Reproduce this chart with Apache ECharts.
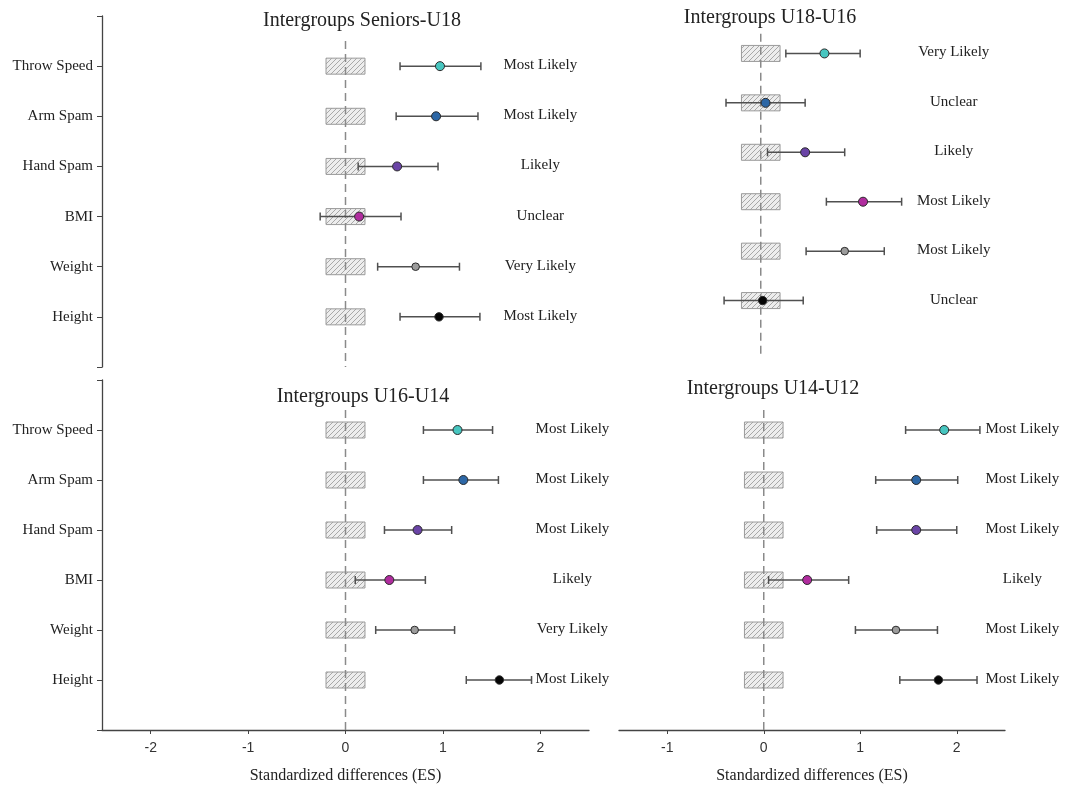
<!DOCTYPE html>
<html><head><meta charset="utf-8">
<script src="https://cdn.jsdelivr.net/npm/echarts@6/dist/echarts.min.js"></script>
<style>html,body{margin:0;padding:0;background:#fff}#c{width:1069px;height:790px}</style>
</head><body><div id="c"></div>
<script>
// ---------- data ----------
const categories = ['Throw Speed', 'Arm Spam', 'Hand Spam', 'BMI', 'Weight', 'Height'];
const xTicksWide = [-2, -1, 0, 1, 2];
const xTicksNarrow = [-1, 0, 1, 2];
const axisName = 'Standardized differences (ES)';
const panelTitles = ['Intergroups Seniors-U18', 'Intergroups U18-U16', 'Intergroups U16-U14', 'Intergroups U14-U12'];
const trivialLow = -0.2;   // smallest worthwhile change band
const trivialHigh = 0.2;

const seniorsU18Es  = [0.97, 0.93, 0.53, 0.14, 0.72, 0.96];
const seniorsU18Lo  = [0.56, 0.52, 0.13, -0.26, 0.33, 0.56];
const seniorsU18Hi  = [1.39, 1.36, 0.95, 0.57, 1.17, 1.38];
const seniorsU18Inf = ['Most Likely', 'Most Likely', 'Likely', 'Unclear', 'Very Likely', 'Most Likely'];

const u18U16Es  = [0.66, 0.05, 0.46, 1.06, 0.87, 0.02];
const u18U16Lo  = [0.26, -0.36, 0.07, 0.68, 0.47, -0.38];
const u18U16Hi  = [1.03, 0.46, 0.87, 1.46, 1.28, 0.44];
const u18U16Inf = ['Very Likely', 'Unclear', 'Likely', 'Most Likely', 'Most Likely', 'Unclear'];

const u16U14Es  = [1.15, 1.21, 0.74, 0.45, 0.71, 1.58];
const u16U14Lo  = [0.80, 0.80, 0.40, 0.10, 0.31, 1.24];
const u16U14Hi  = [1.51, 1.57, 1.09, 0.82, 1.12, 1.91];
const u16U14Inf = ['Most Likely', 'Most Likely', 'Most Likely', 'Likely', 'Very Likely', 'Most Likely'];

const u14U12Es  = [1.87, 1.58, 1.58, 0.45, 1.37, 1.81];
const u14U12Lo  = [1.47, 1.16, 1.17, 0.05, 0.95, 1.41];
const u14U12Hi  = [2.24, 2.01, 2.00, 0.88, 1.80, 2.21];
const u14U12Inf = ['Most Likely', 'Most Likely', 'Most Likely', 'Likely', 'Most Likely', 'Most Likely'];

// ---------- styles / layout ----------
const dotColors = ['#47c6c0', '#2d67a6', '#6a44a6', '#b02c9e', '#9c9c9c', '#050505'];
const dotRadius = [4.5, 4.5, 4.5, 4.5, 3.8, 4.2];
const serif = '"Liberation Serif", "DejaVu Serif", serif';

const panels = [
  {es: seniorsU18Es, lo: seniorsU18Lo, hi: seniorsU18Hi, inf: seniorsU18Inf,
   grid: {left: 102, top: 16, width: 487, height: 351}, xMin: -2.5, xMax: 2.5, ticks: xTicksWide,
   showX: false, showY: true, labelAt: 2.0, dash: [0.5, 7], title: [362, 11]},
  {es: u18U16Es, lo: u18U16Lo, hi: u18U16Hi, inf: u18U16Inf,
   grid: {left: 616, top: 4, width: 386, height: 346}, xMin: -1.5, xMax: 2.5, ticks: xTicksNarrow,
   showX: false, showY: false, labelAt: 2.0, dash: [0.6, 7.1], title: [770, 8]},
  {es: u16U14Es, lo: u16U14Lo, hi: u16U14Hi, inf: u16U14Inf,
   grid: {left: 102, top: 380, width: 487, height: 350}, xMin: -2.5, xMax: 2.5, ticks: xTicksWide,
   showX: true, showY: true, labelAt: 2.33, dash: [0.6, 7], title: [363, 387]},
  {es: u14U12Es, lo: u14U12Lo, hi: u14U12Hi, inf: u14U12Inf,
   grid: {left: 619, top: 380, width: 386, height: 350}, xMin: -1.5, xMax: 2.5, ticks: xTicksNarrow,
   showX: true, showY: false, labelAt: 2.68, dash: [0.6, 7], title: [773, 379]}
];

// hatch pattern for the trivial band
const hatch = document.createElement('canvas');
hatch.width = 5; hatch.height = 5;
(function () {
  const g = hatch.getContext('2d');
  g.fillStyle = '#ededed'; g.fillRect(0, 0, 5, 5);
  g.strokeStyle = '#a8a8a8'; g.lineWidth = 1;
  g.beginPath();
  g.moveTo(0, 5); g.lineTo(5, 0);
  g.moveTo(-1, 1); g.lineTo(1, -1);
  g.moveTo(4, 6); g.lineTo(6, 4);
  g.stroke();
})();

const grids = [], xAxes = [], yAxes = [], series = [], graphics = [];

panels.forEach((p, i) => {
  grids.push(Object.assign({containLabel: false}, p.grid));
  xAxes.push({
    type: 'value', gridIndex: i, min: p.xMin, max: p.xMax,
    show: p.showX,
    splitLine: {show: false},
    axisLine: {show: true, onZero: false, lineStyle: {color: '#444', width: 1.3}},
    axisTick: {show: true, length: 4, lineStyle: {color: '#444'}, customValues: p.ticks},
    axisLabel: {show: true, customValues: p.ticks, margin: 11, color: '#333',
      fontFamily: '"Liberation Sans", Arial, sans-serif', fontSize: 14},
    name: axisName, nameLocation: 'middle', nameGap: 38,
    nameTextStyle: {fontFamily: serif, fontSize: 16, color: '#222'}
  });
  yAxes.push({
    type: 'value', gridIndex: i, min: 0, max: 7, interval: 1, inverse: true,
    show: p.showY,
    splitLine: {show: false},
    axisLine: {show: true, onZero: false, lineStyle: {color: '#444', width: 1.3}},
    axisTick: {show: true, length: 5, lineStyle: {color: '#444'}},
    axisLabel: {show: true, margin: 9, color: '#222', fontFamily: serif, fontSize: 15,
      formatter: v => categories[v - 1] || ''}
  });

  const rows = categories.map((c, k) => [k + 1, p.es[k], p.lo[k], p.hi[k]]);

  // trivial band boxes
  series.push({
    type: 'custom', xAxisIndex: i, yAxisIndex: i, z: 1, silent: true,
    data: categories.map((c, k) => [k + 1, trivialLow, trivialHigh]),
    encode: {x: [1, 2], y: 0},
    renderItem: (params, api) => {
      const a = api.coord([api.value(1), api.value(0)]);
      const b = api.coord([api.value(2), api.value(0)]);
      return {type: 'rect', shape: {x: a[0], y: a[1] - 8, width: b[0] - a[0], height: 16},
        style: {fill: {image: hatch, repeat: 'repeat'}, stroke: '#9a9a9a', lineWidth: 1}};
    }
  });

  // dashed zero line
  series.push({
    type: 'custom', xAxisIndex: i, yAxisIndex: i, z: 2, silent: true,
    data: [[0, p.dash[0], p.dash[1]]],
    encode: {x: 0, y: [1, 2]},
    renderItem: (params, api) => {
      const a = api.coord([api.value(0), api.value(1)]);
      const b = api.coord([api.value(0), api.value(2)]);
      return {type: 'line', shape: {x1: a[0], y1: a[1], x2: b[0], y2: b[1]},
        style: {stroke: '#8a8a8a', lineWidth: 1.5, lineDash: [8, 5]}};
    }
  });

  // effect sizes with confidence limits + inference labels
  series.push({
    type: 'custom', xAxisIndex: i, yAxisIndex: i, z: 3, silent: true,
    data: rows,
    encode: {x: [1, 2, 3], y: 0},
    renderItem: (params, api) => {
      const k = params.dataIndex;
      const row = api.value(0);
      const pe = api.coord([api.value(1), row]);
      const pl = api.coord([api.value(2), row]);
      const ph = api.coord([api.value(3), row]);
      const pt = api.coord([p.labelAt, row]);
      const ls = {stroke: '#505050', lineWidth: 1.5};
      return {type: 'group', children: [
        {type: 'line', shape: {x1: pl[0], y1: pl[1], x2: ph[0], y2: ph[1]}, style: ls},
        {type: 'line', shape: {x1: pl[0], y1: pl[1] - 4, x2: pl[0], y2: pl[1] + 4}, style: ls},
        {type: 'line', shape: {x1: ph[0], y1: ph[1] - 4, x2: ph[0], y2: ph[1] + 4}, style: ls},
        {type: 'circle', shape: {cx: pe[0], cy: pe[1], r: dotRadius[k]},
          style: {fill: dotColors[k], stroke: '#2a2a2a', lineWidth: 1}},
        {type: 'text', x: pt[0], y: pt[1] - 1,
          style: {text: p.inf[k], align: 'center', verticalAlign: 'middle',
            font: '15px ' + serif, fill: '#222'}}
      ]};
    }
  });

  graphics.push({
    type: 'text', x: p.title[0], y: p.title[1],
    style: {text: panelTitles[i], align: 'center', verticalAlign: 'top',
      font: '20px ' + serif, fill: '#222'}
  });
});

const chart = echarts.init(document.getElementById('c'), null, {renderer: 'canvas'});
chart.setOption({
  animation: false,
  backgroundColor: '#ffffff',
  grid: grids, xAxis: xAxes, yAxis: yAxes, series: series, graphic: graphics
});
</script></body></html>
